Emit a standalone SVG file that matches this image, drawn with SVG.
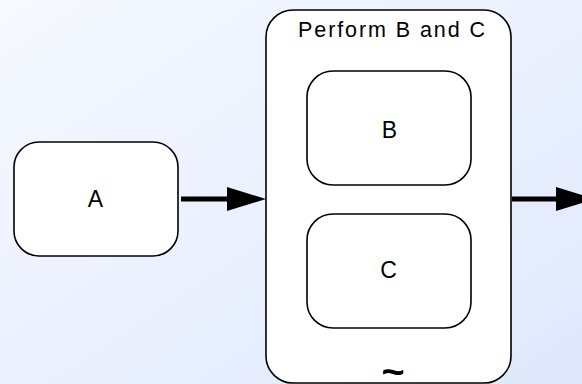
<svg xmlns="http://www.w3.org/2000/svg" width="582" height="384" viewBox="0 0 582 384">
<style>
.box{fill:#fff;stroke:#000;stroke-width:1.6}
.lbl{font-family:"Liberation Sans",Arial,sans-serif;font-size:23px;fill:#000;text-anchor:middle}
.ttl{font-family:"Liberation Sans",Arial,sans-serif;font-size:21.5px;fill:#000;text-anchor:middle}
.edge{stroke:#000;stroke-width:5;fill:none}
</style>
<defs>
<linearGradient id="bg" x1="0" y1="0" x2="1" y2="1">
<stop offset="0" stop-color="#f6f9ff"/>
<stop offset="1" stop-color="#dfe8fc"/>
</linearGradient>
</defs>
<rect x="0" y="0" width="582" height="384" fill="url(#bg)"/>
<g id="A">
<rect class="box" x="14" y="142" width="164" height="114" rx="25" ry="25"/>
<text class="lbl" x="95.5" y="207">A</text>
</g>
<g id="PerformBC">
<rect class="box" x="266" y="10" width="245" height="373" rx="27" ry="27"/>
<text class="ttl" x="391.5" y="36.5" textLength="187" lengthAdjust="spacing">Perform B and C</text>
<text x="0" y="0" transform="translate(393,383.5) scale(1.2,1.1)" font-family="'Liberation Sans',Arial,sans-serif" font-size="33" font-weight="bold" text-anchor="middle">~</text>
</g>
<g id="B">
<rect class="box" x="307" y="71" width="164" height="114" rx="26" ry="26"/>
<text class="lbl" x="389.5" y="138">B</text>
</g>
<g id="C">
<rect class="box" x="307" y="214" width="164" height="114" rx="26" ry="26"/>
<text class="lbl" x="388.5" y="278">C</text>
</g>
<g id="connectors">
<line class="edge" x1="181" y1="199" x2="229" y2="199"/>
<polygon points="227,187 266,199 227,211" fill="#000"/>
<line class="edge" x1="512" y1="199" x2="558" y2="199"/>
<polygon points="556,187 595,199 556,211" fill="#000"/>
</g>
</svg>
